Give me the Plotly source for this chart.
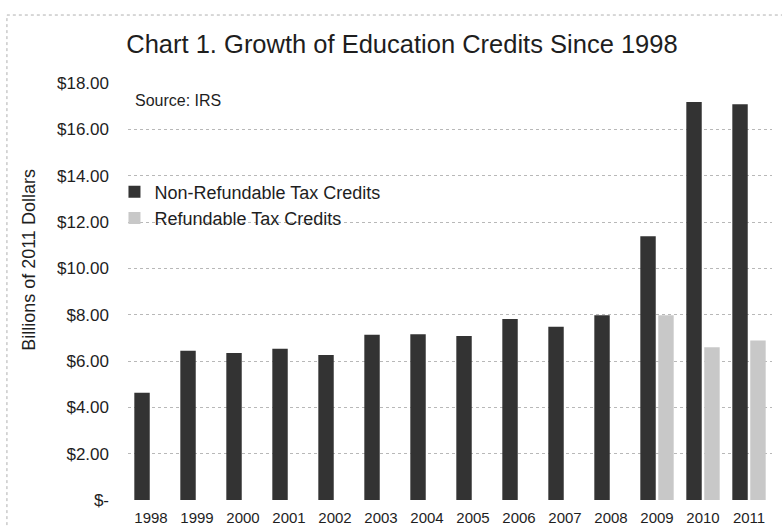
import plotly.graph_objects as go

# %% DATA
YEARS = ["1998", "1999", "2000", "2001", "2002", "2003", "2004",
         "2005", "2006", "2007", "2008", "2009", "2010", "2011"]
NON_REFUNDABLE = [4.63, 6.44, 6.34, 6.53, 6.26, 7.13, 7.16,
                  7.08, 7.81, 7.48, 7.98, 11.39, 17.18, 17.08]
REFUNDABLE = [None, None, None, None, None, None, None,
              None, None, None, None, 7.98, 6.59, 6.89]
Y_TICK_VALS = [0, 2, 4, 6, 8, 10, 12, 14, 16, 18]
Y_TICK_TEXT = ["$-", "$2.00", "$4.00", "$6.00", "$8.00", "$10.00",
               "$12.00", "$14.00", "$16.00", "$18.00"]

FONT = "Liberation Sans, Arial, sans-serif"

# %% PLOT
fig = go.Figure()
fig.add_trace(go.Bar(x=YEARS, y=NON_REFUNDABLE, name="Non-Refundable Tax Credits",
                     marker=dict(color="#333333", line=dict(width=0))))
fig.add_trace(go.Bar(x=YEARS, y=REFUNDABLE, name="Refundable Tax Credits",
                     marker=dict(color="#c8c8c8", line=dict(width=0))))

fig.update_layout(
    width=782, height=526,
    margin=dict(l=128, r=10, t=83, b=26, autoexpand=False),
    paper_bgcolor="white", plot_bgcolor="white",
    font=dict(family=FONT, color="#1e1e1e"),
    barmode="group", bargap=0.22, bargroupgap=0.14,
    title=dict(text="Chart 1. Growth of Education Credits Since 1998",
               x=0.514, xanchor="center", y=0.916, yanchor="middle",
               font=dict(size=25.5, color="#1e1e1e"), automargin=False),
    xaxis=dict(showgrid=False, showline=False, ticks="", automargin=False,
               tickfont=dict(size=15), ticklabelstandoff=7),
    yaxis=dict(range=[0, 18], tickvals=Y_TICK_VALS, ticktext=Y_TICK_TEXT,
               showgrid=True, gridcolor="#b8b8b8", griddash="dot", gridwidth=1,
               zeroline=False, showline=False, ticks="", automargin=False,
               tickfont=dict(size=17), ticklabelstandoff=18),
    legend=dict(x=-0.021, xanchor="left", y=0.783, yanchor="top",
                bgcolor="rgba(0,0,0,0)", font=dict(size=18),
                tracegroupgap=0),
    showlegend=True,
)

fig.add_annotation(text="Source: IRS", xref="paper", yref="paper",
                   x=0.008, y=0.959, xanchor="left", yanchor="middle",
                   showarrow=False, font=dict(size=16))
fig.add_annotation(text="Billions of 2011 Dollars", xref="paper", yref="paper",
                   x=-0.153, y=0.577, xanchor="center", yanchor="middle",
                   textangle=-90, showarrow=False, font=dict(size=18))

# dotted frame around the chart
fig.add_shape(type="rect", xref="paper", yref="paper",
              x0=-0.188, x1=1.05, y0=-0.2, y1=1.163,
              line=dict(color="#b0b0b0", width=1, dash="dot"))

# page body margin off so the figure sits at the window's top-left corner
fig.write_html("out.html", config={"displayModeBar": False},
               post_script="document.body.style.margin='0';")
